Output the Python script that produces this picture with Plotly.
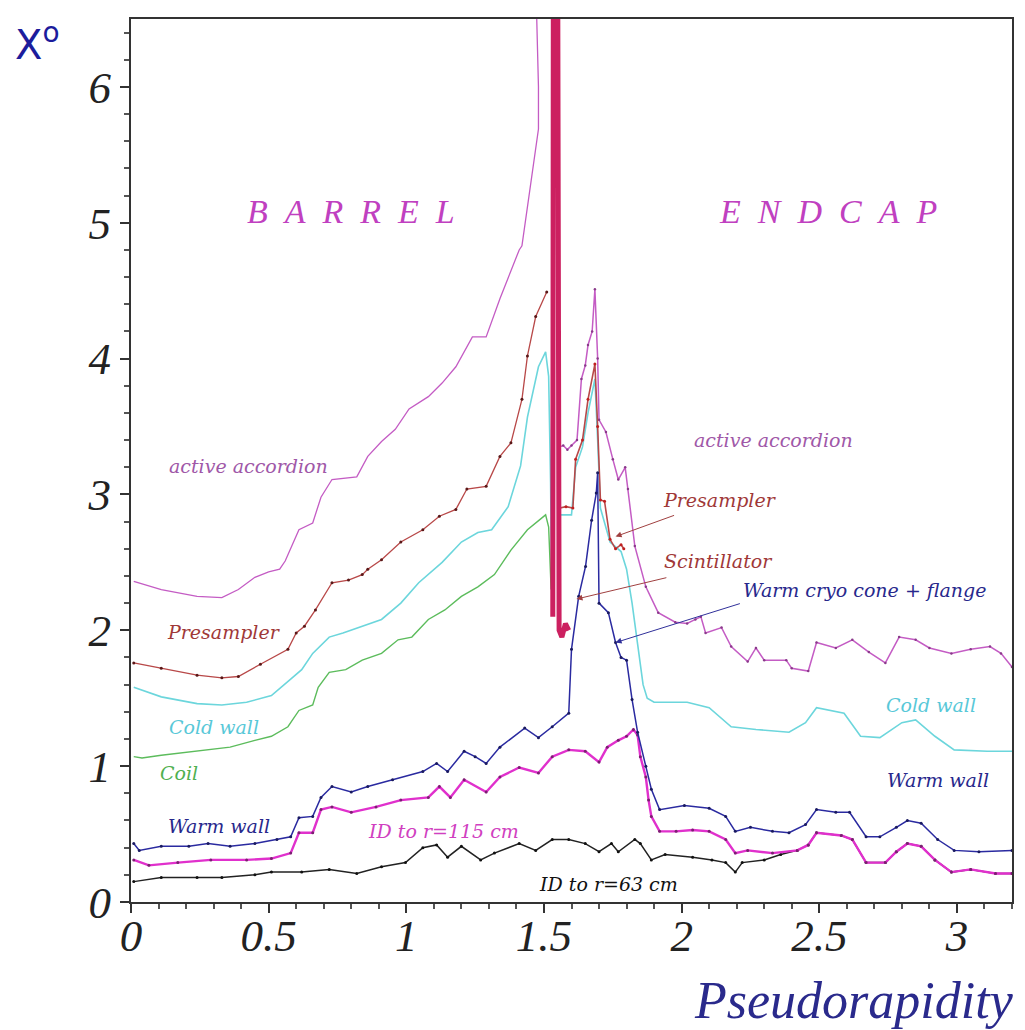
import plotly.graph_objects as go

# ---------------- data ----------------
acc_b_x = [0.01, 0.11, 0.24, 0.33, 0.39, 0.45, 0.50, 0.54, 0.56, 0.61, 0.66, 0.69, 0.73, 0.82, 0.86, 0.91, 0.96,
           1.01, 1.08, 1.13, 1.18, 1.24, 1.29, 1.34, 1.41, 1.42, 1.48, 1.48, 1.47]
acc_b_y = [2.36, 2.30, 2.25, 2.24, 2.30, 2.39, 2.43, 2.45, 2.51, 2.74, 2.79, 2.98, 3.11, 3.13, 3.28, 3.39, 3.48,
           3.63, 3.72, 3.82, 3.94, 4.16, 4.16, 4.44, 4.80, 4.83, 5.69, 6.00, 6.80]

acc_e_x = [1.553, 1.556, 1.57, 1.585, 1.60, 1.62, 1.636, 1.65, 1.66, 1.675, 1.685, 1.695, 1.70, 1.725, 1.75, 1.77,
           1.795, 1.805, 1.83, 1.87, 1.915, 1.977, 2.02, 2.05, 2.07, 2.087, 2.145, 2.18, 2.24, 2.27, 2.30, 2.38,
           2.40, 2.46, 2.49, 2.56, 2.62, 2.68, 2.74, 2.79, 2.85, 2.90, 2.98, 3.05, 3.12, 3.16, 3.20]
acc_e_y = [6.80, 3.35, 3.36, 3.33, 3.36, 3.40, 3.85, 3.95, 4.10, 4.20, 4.51, 4.00, 3.55, 3.46, 3.26, 3.11,
           3.20, 3.04, 2.62, 2.32, 2.13, 2.06, 2.05, 2.08, 2.10, 1.98, 2.02, 1.88, 1.77, 1.87, 1.78, 1.78,
           1.72, 1.70, 1.91, 1.87, 1.93, 1.84, 1.76, 1.95, 1.93, 1.87, 1.83, 1.86, 1.88, 1.83, 1.73]

pre_b_x = [0.01, 0.11, 0.24, 0.33, 0.39, 0.47, 0.57, 0.60, 0.63, 0.67, 0.73, 0.79, 0.84, 0.86, 0.91, 0.98,
           1.06, 1.12, 1.18, 1.22, 1.29, 1.34, 1.38, 1.42, 1.44, 1.47, 1.51]
pre_b_y = [1.76, 1.72, 1.67, 1.65, 1.66, 1.75, 1.86, 1.98, 2.03, 2.15, 2.35, 2.37, 2.41, 2.45, 2.52, 2.65,
           2.74, 2.84, 2.89, 3.04, 3.06, 3.28, 3.38, 3.70, 4.02, 4.31, 4.49]

pre_e_x = [1.553, 1.557, 1.58, 1.605, 1.615, 1.64, 1.66, 1.685, 1.695, 1.705, 1.72, 1.74, 1.76, 1.78, 1.79]
pre_e_y = [6.80, 2.90, 2.91, 2.90, 3.26, 3.40, 3.70, 3.96, 3.50, 2.96, 2.95, 2.67, 2.60, 2.63, 2.60]

cold_b_x = [0.01, 0.11, 0.24, 0.33, 0.42, 0.51, 0.58, 0.62, 0.66, 0.72, 0.77, 0.84, 0.91, 0.98, 1.045, 1.13,
            1.20, 1.26, 1.31, 1.37, 1.415, 1.44, 1.48, 1.506, 1.517, 1.524, 1.528, 1.529]
cold_b_y = [1.58, 1.51, 1.46, 1.45, 1.47, 1.52, 1.64, 1.71, 1.83, 1.95, 1.98, 2.03, 2.08, 2.20, 2.35, 2.50,
            2.65, 2.72, 2.74, 2.91, 3.21, 3.57, 3.94, 4.05, 3.87, 3.09, 2.45, 2.15]

cold_e_x = [1.556, 1.60, 1.615, 1.64, 1.66, 1.685, 1.695, 1.705, 1.74, 1.78, 1.80, 1.82, 1.84, 1.86, 1.875,
            1.90, 1.94, 2.02, 2.10, 2.18, 2.27, 2.39, 2.45, 2.49, 2.59, 2.65, 2.72, 2.80, 2.85, 2.92, 2.99,
            3.11, 3.20]
cold_e_y = [2.85, 2.85, 3.20, 3.35, 3.60, 3.85, 3.40, 2.90, 2.65, 2.58, 2.45, 2.20, 1.90, 1.60, 1.50,
            1.47, 1.47, 1.47, 1.43, 1.29, 1.27, 1.25, 1.32, 1.43, 1.39, 1.22, 1.21, 1.32, 1.34, 1.22, 1.12,
            1.11, 1.11]

coil_x = [0.01, 0.04, 0.11, 0.24, 0.36, 0.45, 0.51, 0.57, 0.61, 0.66, 0.68, 0.72, 0.78, 0.84, 0.91, 0.97,
          1.02, 1.08, 1.14, 1.20, 1.26, 1.32, 1.38, 1.44, 1.506, 1.517, 1.524, 1.526]
coil_y = [1.07, 1.06, 1.08, 1.11, 1.14, 1.19, 1.22, 1.29, 1.41, 1.45, 1.58, 1.69, 1.71, 1.78, 1.83, 1.93,
          1.95, 2.08, 2.15, 2.25, 2.32, 2.41, 2.59, 2.74, 2.85, 2.76, 2.45, 2.30]

warm_x = [0.01, 0.03, 0.11, 0.21, 0.28, 0.36, 0.45, 0.53, 0.58, 0.61, 0.66, 0.69, 0.73, 0.80, 0.86, 0.95,
          1.06, 1.11, 1.15, 1.21, 1.25, 1.29, 1.34, 1.43, 1.48, 1.53, 1.59, 1.60, 1.626, 1.651, 1.673, 1.69,
          1.695, 1.70, 1.734, 1.76, 1.78, 1.80, 1.82, 1.84, 1.87, 1.89, 1.92, 2.01, 2.10, 2.16, 2.195, 2.25,
          2.33, 2.39, 2.45, 2.49, 2.56, 2.61, 2.67, 2.72, 2.78, 2.82, 2.87, 2.93, 2.99, 3.08, 3.20]
warm_y = [0.43, 0.38, 0.41, 0.41, 0.43, 0.41, 0.43, 0.46, 0.48, 0.62, 0.63, 0.77, 0.85, 0.81, 0.85, 0.90,
          0.96, 1.02, 0.96, 1.11, 1.07, 1.02, 1.14, 1.28, 1.21, 1.29, 1.39, 1.86, 2.25, 2.47, 2.81, 3.01,
          3.16, 2.20, 2.13, 1.91, 1.80, 1.78, 1.49, 1.25, 1.00, 0.83, 0.68, 0.71, 0.69, 0.63, 0.52, 0.55,
          0.52, 0.51, 0.57, 0.68, 0.66, 0.66, 0.48, 0.48, 0.55, 0.60, 0.58, 0.46, 0.38, 0.37, 0.38]

id115_x = [0.01, 0.065, 0.17, 0.29, 0.42, 0.51, 0.58, 0.61, 0.66, 0.69, 0.73, 0.80, 0.89, 0.98, 1.08, 1.12,
           1.16, 1.21, 1.29, 1.34, 1.41, 1.48, 1.53, 1.59, 1.65, 1.70, 1.73, 1.77, 1.80, 1.825, 1.84, 1.85,
           1.87, 1.88, 1.89, 1.92, 1.98, 2.04, 2.10, 2.16, 2.195, 2.24, 2.33, 2.42, 2.46, 2.49, 2.58, 2.62,
           2.67, 2.74, 2.78, 2.82, 2.87, 2.92, 2.98, 3.05, 3.14, 3.20]
id115_y = [0.31, 0.27, 0.29, 0.31, 0.31, 0.32, 0.36, 0.51, 0.51, 0.68, 0.70, 0.66, 0.70, 0.75, 0.77, 0.85,
           0.77, 0.90, 0.81, 0.92, 0.99, 0.95, 1.07, 1.12, 1.11, 1.03, 1.14, 1.19, 1.22, 1.27, 1.23, 1.07,
           0.92, 0.75, 0.63, 0.52, 0.52, 0.53, 0.52, 0.46, 0.36, 0.38, 0.36, 0.38, 0.42, 0.51, 0.49, 0.46,
           0.29, 0.29, 0.37, 0.43, 0.41, 0.31, 0.22, 0.24, 0.21, 0.21]

id63_x = [0.01, 0.11, 0.24, 0.33, 0.45, 0.51, 0.62, 0.72, 0.82, 0.91, 0.997, 1.06, 1.11, 1.15, 1.20, 1.27,
          1.32, 1.41, 1.47, 1.53, 1.59, 1.65, 1.70, 1.745, 1.77, 1.83, 1.85, 1.89, 1.94, 2.04, 2.11, 2.16,
          2.195, 2.22, 2.30, 2.36, 2.42, 2.46, 2.49, 2.58, 2.62, 2.67, 2.74, 2.78, 2.82, 2.87, 2.92, 2.98,
          3.05, 3.14, 3.20]
id63_y = [0.15, 0.18, 0.18, 0.18, 0.20, 0.22, 0.22, 0.24, 0.21, 0.26, 0.29, 0.40, 0.42, 0.33, 0.41, 0.31,
          0.36, 0.43, 0.38, 0.46, 0.46, 0.43, 0.37, 0.43, 0.37, 0.46, 0.43, 0.31, 0.35, 0.33, 0.31, 0.29,
          0.22, 0.29, 0.31, 0.35, 0.38, 0.42, 0.51, 0.49, 0.46, 0.29, 0.29, 0.37, 0.43, 0.41, 0.31, 0.22,
          0.24, 0.21, 0.21]

scint_x = [1.532, 1.534, 1.550, 1.555, 1.565, 1.578, 1.59]
scint_y = [2.10, 6.80, 6.80, 2.00, 1.95, 2.05, 2.00]

x_tick_vals = [0, 0.5, 1, 1.5, 2, 2.5, 3]
x_tick_text = ["0", "0.5", "1", "1.5", "2", "2.5", "3"]
y_tick_vals = [0, 1, 2, 3, 4, 5, 6]
y_tick_text = ["0", "1", "2", "3", "4", "5", "6"]

# ---------------- styles ----------------
C_ACC = "#c45cc4"
C_PRE = "#b84848"
C_COLD = "#6cd6dc"
C_COIL = "#5cbc5c"
C_WARM = "#2a2aa0"
C_ID115 = "#e030cc"
C_ID63 = "#222222"
C_SCINT = "#cc2060"
SERIF = "Liberation Serif"
LABEL_FAMILY = "DejaVu Serif"

fig = go.Figure()


def add(x, y, color, width=1.3, marker=None, msize=3):
    if marker:
        fig.add_trace(go.Scatter(x=x, y=y, mode="lines+markers",
                                 line=dict(color=color, width=width),
                                 marker=dict(color=marker, size=msize),
                                 showlegend=False, hoverinfo="skip"))
    else:
        fig.add_trace(go.Scatter(x=x, y=y, mode="lines",
                                 line=dict(color=color, width=width),
                                 showlegend=False, hoverinfo="skip"))


add(cold_b_x, cold_b_y, C_COLD, 1.6)
add(cold_e_x, cold_e_y, C_COLD, 1.6)
add(coil_x, coil_y, C_COIL, 1.4)
add(acc_b_x, acc_b_y, C_ACC, 1.3)
add(acc_e_x, acc_e_y, C_ACC, 1.5, marker="#8a3a8a", msize=2.5)
add(pre_b_x, pre_b_y, C_PRE, 1.3, marker="#5a1818", msize=3)
add(pre_e_x, pre_e_y, C_PRE, 1.6, marker="#c02020", msize=3)
add(id63_x, id63_y, C_ID63, 1.5, marker="#111111", msize=3)
add(id115_x, id115_y, C_ID115, 2.4, marker="#7a2070", msize=3)
add(warm_x, warm_y, C_WARM, 1.5, marker="#1a1a60", msize=3)
add(scint_x, scint_y, C_SCINT, 5)

texts = [
    ("active accordion", 0.428, 3.21, "#a058a8"),
    ("Presampler", 0.337, 1.99, "#a03838"),
    ("Cold wall", 0.301, 1.29, "#58c8d8"),
    ("Coil", 0.174, 0.95, "#50b050"),
    ("Warm wall", 0.319, 0.56, "#28288c"),
    ("ID to r=115 cm", 1.136, 0.52, "#d040c0"),
    ("ID to r=63 cm", 1.734, 0.13, "#111111"),
    ("active accordion", 2.333, 3.40, "#a058a8"),
    ("Presampler", 2.141, 2.96, "#a03838"),
    ("Scintillator", 2.134, 2.51, "#a03838"),
    ("Warm cryo cone + flange", 2.663, 2.30, "#28288c"),
    ("Cold wall", 2.906, 1.45, "#58c8d8"),
    ("Warm wall", 2.932, 0.90, "#28288c"),
]
for t, x, y, c in texts:
    fig.add_annotation(x=x, y=y, xref="x", yref="y", text=t, showarrow=False,
                       font=dict(family=LABEL_FAMILY, style="italic", size=19, color=c),
                       xanchor="center", yanchor="middle")

for t, x in [("B\u2002A\u2002R\u2002R\u2002E\u2002L", 0.798), ("E\u2002N\u2002D\u2002C\u2002A\u2002P", 2.533)]:
    fig.add_annotation(x=x, y=5.08, xref="x", yref="y", text=t, showarrow=False,
                       font=dict(family=SERIF, style="italic", size=34, color="#c040c0"),
                       xanchor="center", yanchor="middle")

# arrows: (head x, head y, tail x, tail y, colour)
arrows = [
    (1.760, 2.69, 1.978, 2.85, "#a04040"),
    (1.618, 2.23, 1.950, 2.39, "#a04040"),
    (1.760, 1.91, 2.217, 2.20, "#30309a"),
]
for hx, hy, tx, ty, c in arrows:
    fig.add_annotation(x=hx, y=hy, ax=tx, ay=ty, xref="x", yref="y", axref="x", ayref="y",
                       text="", showarrow=True, arrowhead=2, arrowsize=1.2, arrowwidth=1,
                       arrowcolor=c)

fig.add_annotation(x=-0.106, y=0.974, xref="paper", yref="paper", text="X<sup>o</sup>",
                   showarrow=False, font=dict(family="DejaVu Sans", size=40, color="#1c1c9c"),
                   xanchor="center", yanchor="middle")
fig.add_annotation(x=0.821, y=-0.111, xref="paper", yref="paper", text="Pseudorapidity",
                   showarrow=False, font=dict(family=SERIF, style="italic", size=52, color="#2a2a8c"),
                   xanchor="center", yanchor="middle")

tick_font = dict(family=SERIF, style="italic", size=45, color="#222222")
fig.update_xaxes(range=[0, 3.2], tickvals=x_tick_vals, ticktext=x_tick_text, tickfont=tick_font,
                 showgrid=False, zeroline=False, showline=True, linecolor="#333333", linewidth=2,
                 mirror=True, ticks="outside", ticklen=9, tickwidth=1.5, tickcolor="#333333",
                 ticklabelstandoff=-16,
                 minor=dict(dtick=0.1, tick0=0, ticks="outside", ticklen=5, tickcolor="#555555"))
fig.update_yaxes(range=[0, 6.5], tickvals=y_tick_vals, ticktext=y_tick_text, tickfont=tick_font,
                 showgrid=False, zeroline=False, showline=True, linecolor="#333333", linewidth=2,
                 mirror=True, ticks="outside", ticklen=9, tickwidth=1.5, tickcolor="#333333",
                 minor=dict(dtick=0.2, tick0=0, ticks="outside", ticklen=5, tickcolor="#555555"))

fig.update_layout(width=1025, height=1030, margin=dict(l=131, r=11, t=19, b=128),
                  paper_bgcolor="white", plot_bgcolor="white")

fig.write_html("out.html")
